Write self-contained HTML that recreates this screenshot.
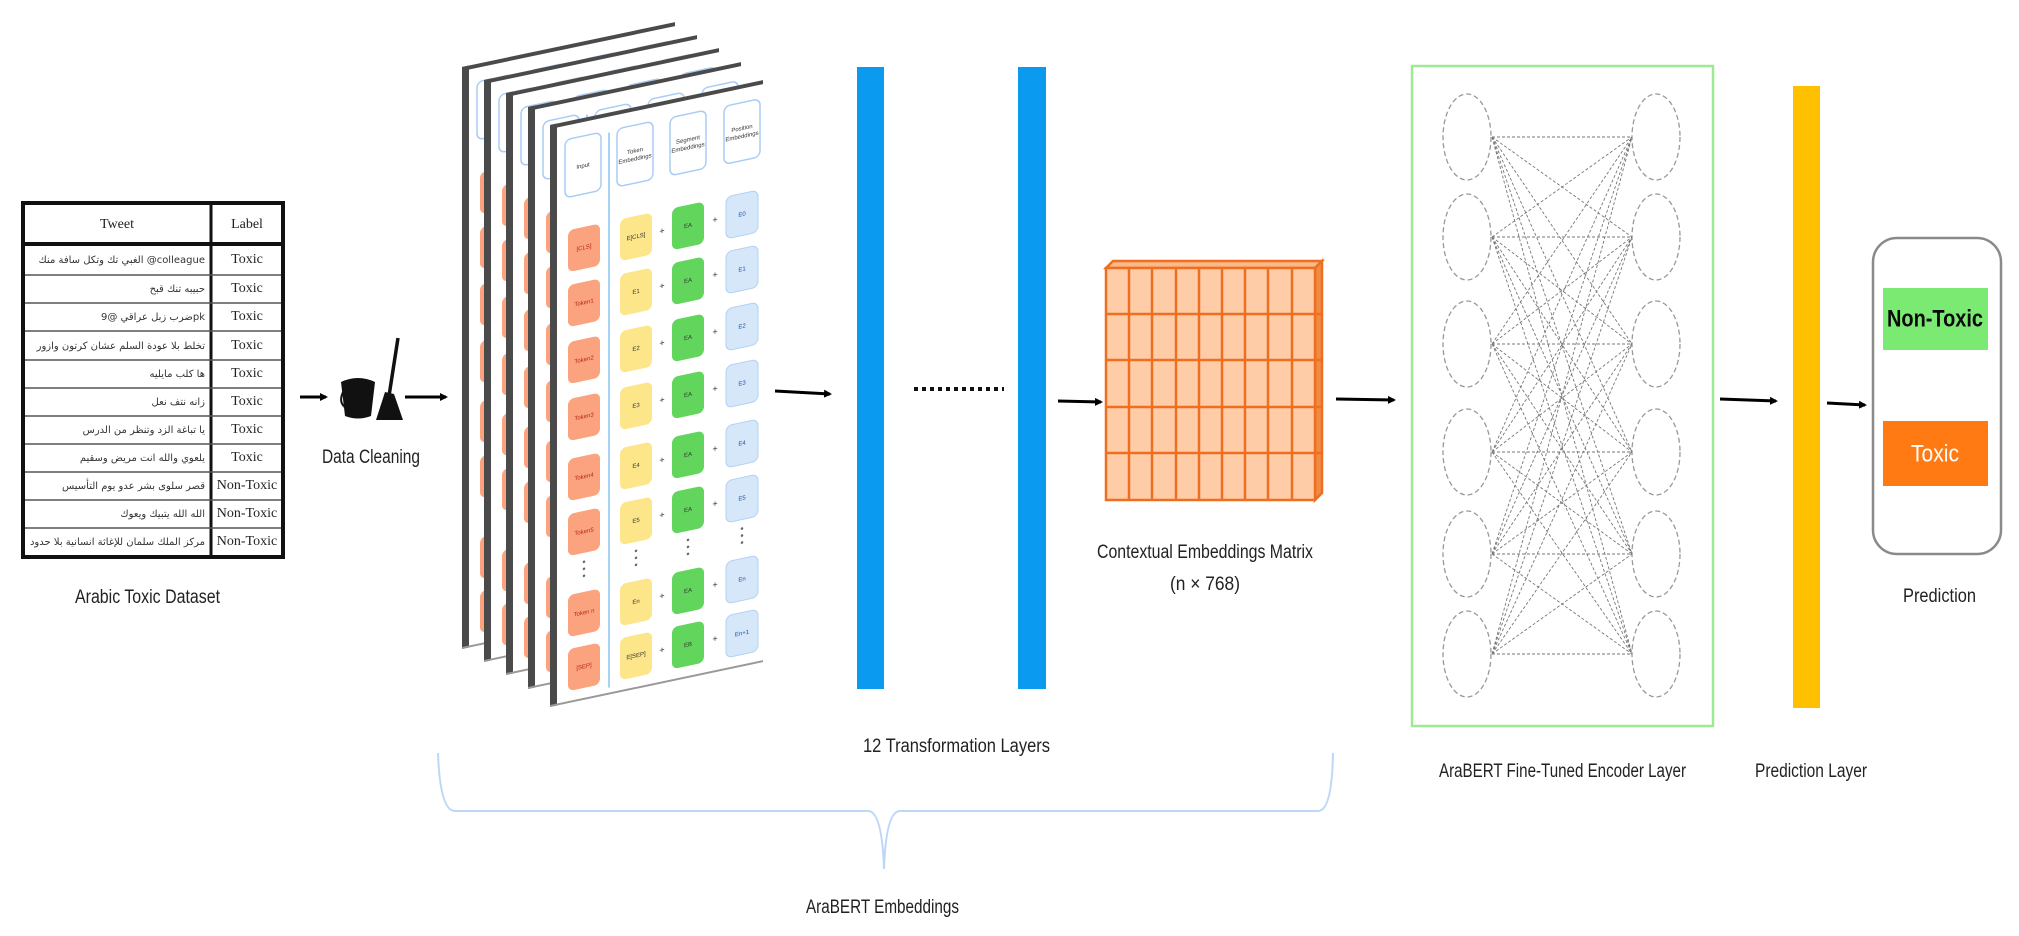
<!DOCTYPE html>
<html><head><meta charset="utf-8"><style>
html,body{margin:0;padding:0;background:#fff;}
svg{display:block;}
.lbl{font-family:"Liberation Sans",sans-serif;font-size:19px;fill:#222;dominant-baseline:middle;}
.tb{font-family:"Liberation Serif",serif;font-size:14px;fill:#222;dominant-baseline:middle;}
.ar{font-family:"DejaVu Sans","Noto Sans CJK SC",sans-serif;font-size:10px;fill:#333;dominant-baseline:middle;}
.ct{font-family:"Liberation Sans",sans-serif;font-size:6px;fill:#333;text-anchor:middle;dominant-baseline:middle;}
</style></head><body>
<svg width="2019" height="936" viewBox="0 0 2019 936" xmlns="http://www.w3.org/2000/svg">
<defs>
<clipPath id="tc"><rect x="27" y="246" width="182" height="310"/></clipPath>
<marker id="ah" markerWidth="8" markerHeight="8" refX="6" refY="4" orient="auto" markerUnits="userSpaceOnUse">
<path d="M0,0 L8,4 L0,8 Z" fill="#000"/></marker>
<g id="card">
<rect x="0" y="0" width="213" height="582" fill="#fff"/>
<rect x="0" y="0" width="7" height="582" fill="#4a4a4a"/>
<rect x="0" y="0" width="213" height="4" fill="#4a4a4a"/>
<rect x="0" y="580" width="213" height="2" fill="#999"/>
<g fill="#fff" stroke="#a8cdf5" stroke-width="1.5">
<rect x="15" y="18" width="36" height="58" rx="6"/>
<rect x="67" y="18" width="36" height="58" rx="6"/>
<rect x="120" y="18" width="36" height="58" rx="6"/>
<rect x="174" y="18" width="36" height="58" rx="6"/>
</g>
<line x1="59" y1="20" x2="59" y2="575" stroke="#a6d4f7" stroke-width="2"/>
<g fill="#FBA37E">
<rect x="18" y="109" width="32" height="42" rx="6"/><rect x="18" y="164" width="32" height="42" rx="6"/>
<rect x="18" y="221" width="32" height="42" rx="6"/><rect x="18" y="278" width="32" height="42" rx="6"/>
<rect x="18" y="338" width="32" height="42" rx="6"/><rect x="18" y="393" width="32" height="42" rx="6"/>
<rect x="18" y="474" width="32" height="42" rx="6"/><rect x="18" y="528" width="32" height="42" rx="6"/>
</g>
<g fill="#FDE68A">
<rect x="70" y="109" width="32" height="42" rx="6"/><rect x="70" y="164" width="32" height="42" rx="6"/>
<rect x="70" y="221" width="32" height="42" rx="6"/><rect x="70" y="278" width="32" height="42" rx="6"/>
<rect x="70" y="338" width="32" height="42" rx="6"/><rect x="70" y="393" width="32" height="42" rx="6"/>
<rect x="70" y="474" width="32" height="42" rx="6"/><rect x="70" y="528" width="32" height="42" rx="6"/>
</g>
<g fill="#62D65C">
<rect x="122" y="109" width="32" height="42" rx="6"/><rect x="122" y="164" width="32" height="42" rx="6"/>
<rect x="122" y="221" width="32" height="42" rx="6"/><rect x="122" y="278" width="32" height="42" rx="6"/>
<rect x="122" y="338" width="32" height="42" rx="6"/><rect x="122" y="393" width="32" height="42" rx="6"/>
<rect x="122" y="474" width="32" height="42" rx="6"/><rect x="122" y="528" width="32" height="42" rx="6"/>
</g>
<g fill="#D6E7FA" stroke="#b3d1f2" stroke-width="1">
<rect x="176" y="109" width="32" height="42" rx="6"/><rect x="176" y="164" width="32" height="42" rx="6"/>
<rect x="176" y="221" width="32" height="42" rx="6"/><rect x="176" y="278" width="32" height="42" rx="6"/>
<rect x="176" y="338" width="32" height="42" rx="6"/><rect x="176" y="393" width="32" height="42" rx="6"/>
<rect x="176" y="474" width="32" height="42" rx="6"/><rect x="176" y="528" width="32" height="42" rx="6"/>
</g>
<g fill="#666">
<circle cx="34" cy="444" r="1.3"/><circle cx="34" cy="451" r="1.3"/><circle cx="34" cy="458" r="1.3"/>
<circle cx="86" cy="444" r="1.3"/><circle cx="86" cy="451" r="1.3"/><circle cx="86" cy="458" r="1.3"/>
<circle cx="138" cy="444" r="1.3"/><circle cx="138" cy="451" r="1.3"/><circle cx="138" cy="458" r="1.3"/>
<circle cx="192" cy="444" r="1.3"/><circle cx="192" cy="451" r="1.3"/><circle cx="192" cy="458" r="1.3"/>
</g>
</g>
</defs>

<!-- Table -->
<rect x="23" y="203" width="260" height="354" fill="#fff" stroke="#111" stroke-width="4"/>
<line x1="23" y1="244" x2="283" y2="244" stroke="#111" stroke-width="4"/>
<line x1="211" y1="203" x2="211" y2="557" stroke="#111" stroke-width="3"/>
<g stroke="#555" stroke-width="1.5">
<line x1="25" y1="275" x2="281" y2="275"/><line x1="25" y1="303" x2="281" y2="303"/>
<line x1="25" y1="331" x2="281" y2="331"/><line x1="25" y1="360" x2="281" y2="360"/>
<line x1="25" y1="388" x2="281" y2="388"/><line x1="25" y1="416" x2="281" y2="416"/>
<line x1="25" y1="444" x2="281" y2="444"/><line x1="25" y1="472" x2="281" y2="472"/>
<line x1="25" y1="500" x2="281" y2="500"/><line x1="25" y1="528" x2="281" y2="528"/>
</g>
<text class="tb" x="117" y="225" text-anchor="middle">Tweet</text>
<text class="tb" x="247" y="225" text-anchor="middle">Label</text>
<g class="ar" text-anchor="end" clip-path="url(#tc)">
<text x="205" y="260">الغبي تك وتكل سافة منك @colleague</text>
<text x="205" y="289">حبيبه تنك قبح</text>
<text x="205" y="317">ضرب زبل عراقي @9pk</text>
<text x="205" y="346">تخلط بلا عودة السلم عشان كرتون وازور</text>
<text x="205" y="374">ها كلب مايليه</text>
<text x="205" y="402">زانه نتف نعل</text>
<text x="205" y="430">يا تباغة الزد وتنظر من الدرس</text>
<text x="205" y="458">يلعوي والله انت مريض وسقيم</text>
<text x="205" y="486">قصر سلوى بشر عدو يوم التأسيس</text>
<text x="205" y="514">الله الله يتبيك ويعوك</text>
<text x="205" y="542">مركز الملك سلمان للإغاثة انسانية بلا حدود</text>
</g>
<g class="tb" text-anchor="middle">
<text x="247" y="260">Toxic</text><text x="247" y="289">Toxic</text><text x="247" y="317">Toxic</text>
<text x="247" y="346">Toxic</text><text x="247" y="374">Toxic</text><text x="247" y="402">Toxic</text>
<text x="247" y="430">Toxic</text><text x="247" y="458">Toxic</text>
<text x="247" y="486">Non-Toxic</text><text x="247" y="514">Non-Toxic</text><text x="247" y="542">Non-Toxic</text>
</g>
<text class="lbl" x="75" y="598" textLength="145" lengthAdjust="spacingAndGlyphs">Arabic Toxic Dataset</text>

<!-- arrows -->
<g stroke="#000" stroke-width="3" marker-end="url(#ah)">
<line x1="300" y1="397" x2="326" y2="397"/>
<line x1="405" y1="397" x2="446" y2="397"/>
<line x1="775" y1="391" x2="830" y2="394"/>
<line x1="1058" y1="401" x2="1101" y2="402"/>
<line x1="1336" y1="399" x2="1394" y2="400"/>
<line x1="1720" y1="399" x2="1776" y2="401"/>
<line x1="1827" y1="403" x2="1865" y2="405"/>
</g>

<!-- bucket + broom -->
<path d="M341,382 Q358,374 375,382 L371,416 Q358,421 345,416 Z" fill="#111"/>
<path d="M343,392 Q337,405 350,410" fill="none" stroke="#111" stroke-width="2"/>
<line x1="398" y1="338" x2="389" y2="396" stroke="#111" stroke-width="3.5"/>
<path d="M385,392 L394,394 L403,420 L376,420 Z" fill="#111"/>
<text class="lbl" x="322" y="458" textLength="98" lengthAdjust="spacingAndGlyphs">Data Cleaning</text>

<!-- card stack -->
<use href="#card" transform="translate(462,67) skewY(-11.9)"/>
<use href="#card" transform="translate(484,80) skewY(-11.9)"/>
<use href="#card" transform="translate(506,93) skewY(-11.9)"/>
<use href="#card" transform="translate(528,107) skewY(-11.9)"/>
<use href="#card" transform="translate(550,125) skewY(-11.9)"/>
<g transform="translate(550,125) skewY(-11.9)">
<text class="ct" x="33" y="48">Input</text>
<text class="ct" x="85" y="44">Token</text><text class="ct" x="85" y="52">Embeddings</text>
<text class="ct" x="138" y="44">Segment</text><text class="ct" x="138" y="52">Embeddings</text>
<text class="ct" x="192" y="44">Position</text><text class="ct" x="192" y="52">Embeddings</text>
<text class="ct" x="34" y="130" style="fill:#b3261e">[CLS]</text><text class="ct" x="34" y="185" style="fill:#b3261e">Token1</text>
<text class="ct" x="34" y="242" style="fill:#b3261e">Token2</text><text class="ct" x="34" y="299" style="fill:#b3261e">Token3</text>
<text class="ct" x="34" y="359" style="fill:#b3261e">Token4</text><text class="ct" x="34" y="414" style="fill:#b3261e">Token5</text>
<text class="ct" x="34" y="495" style="fill:#b3261e">Token n</text><text class="ct" x="34" y="549" style="fill:#b3261e">[SEP]</text>
<g style="font-size:9px">
<text class="ct" x="86" y="130">E[CLS]</text><text class="ct" x="86" y="185">E1</text><text class="ct" x="86" y="242">E2</text>
<text class="ct" x="86" y="299">E3</text><text class="ct" x="86" y="359">E4</text><text class="ct" x="86" y="414">E5</text>
<text class="ct" x="86" y="495">En</text><text class="ct" x="86" y="549">E[SEP]</text>
<text class="ct" x="138" y="130">EA</text><text class="ct" x="138" y="185">EA</text><text class="ct" x="138" y="242">EA</text>
<text class="ct" x="138" y="299">EA</text><text class="ct" x="138" y="359">EA</text><text class="ct" x="138" y="414">EA</text>
<text class="ct" x="138" y="495">EA</text><text class="ct" x="138" y="549">EB</text>
<text class="ct" x="192" y="130" style="fill:#1a4fa0">E0</text><text class="ct" x="192" y="185" style="fill:#1a4fa0">E1</text>
<text class="ct" x="192" y="242" style="fill:#1a4fa0">E2</text><text class="ct" x="192" y="299" style="fill:#1a4fa0">E3</text>
<text class="ct" x="192" y="359" style="fill:#1a4fa0">E4</text><text class="ct" x="192" y="414" style="fill:#1a4fa0">E5</text>
<text class="ct" x="192" y="495" style="fill:#1a4fa0">En</text><text class="ct" x="192" y="549" style="fill:#1a4fa0">En+1</text>
</g>
<g class="ct" style="font-size:9px">
<text x="112" y="130">+</text><text x="112" y="185">+</text><text x="112" y="242">+</text><text x="112" y="299">+</text>
<text x="112" y="359">+</text><text x="112" y="414">+</text><text x="112" y="495">+</text><text x="112" y="549">+</text>
<text x="165" y="130">+</text><text x="165" y="185">+</text><text x="165" y="242">+</text><text x="165" y="299">+</text>
<text x="165" y="359">+</text><text x="165" y="414">+</text><text x="165" y="495">+</text><text x="165" y="549">+</text>
</g>
</g>

<!-- transformer bars -->
<rect x="857" y="67" width="27" height="622" fill="#0A9AF0"/>
<rect x="1018" y="67" width="28" height="622" fill="#0A9AF0"/>
<line x1="914" y1="389" x2="1004" y2="389" stroke="#111" stroke-width="4" stroke-dasharray="4,4"/>
<text class="lbl" x="863" y="747" textLength="187" lengthAdjust="spacingAndGlyphs">12  Transformation Layers</text>

<!-- brace -->
<path d="M438,753 Q440,811 455,811 L868,811 Q882,811 884,869 Q886,811 900,811 L1318,811 Q1332,811 1333,753" fill="none" stroke="#bcd7f7" stroke-width="2"/>
<text class="lbl" x="806" y="908" textLength="153" lengthAdjust="spacingAndGlyphs">AraBERT Embeddings</text>

<!-- matrix -->
<g stroke="#EE6F1F" stroke-width="2.5">
<path d="M1106,268 L1113,261 L1322,261 L1315,268 Z" fill="#F9B98A"/>
<path d="M1315,268 L1322,261 L1322,493 L1315,500 Z" fill="#F08B45"/>
<rect x="1106" y="268" width="209" height="232" fill="#FFCCA8"/>
<path d="M1129,268V500 M1152,268V500 M1176,268V500 M1199,268V500 M1222,268V500 M1245,268V500 M1268,268V500 M1292,268V500"/>
<path d="M1106,314H1322 M1106,360H1322 M1106,407H1322 M1106,453H1322"/>
</g>
<text class="lbl" x="1097" y="553" textLength="216" lengthAdjust="spacingAndGlyphs">Contextual Embeddings Matrix</text>
<text class="lbl" x="1170" y="585" textLength="70" lengthAdjust="spacingAndGlyphs">(n × 768)</text>

<!-- NN -->
<rect x="1412" y="66" width="301" height="660" fill="#fff" stroke="#9EEA94" stroke-width="2.5"/>
<g fill="none" stroke="#999" stroke-width="1.3" stroke-dasharray="5,3">
<ellipse cx="1467" cy="137" rx="24" ry="43"/><ellipse cx="1467" cy="237" rx="24" ry="43"/>
<ellipse cx="1467" cy="344" rx="24" ry="43"/><ellipse cx="1467" cy="452" rx="24" ry="43"/>
<ellipse cx="1467" cy="554" rx="24" ry="43"/><ellipse cx="1467" cy="654" rx="24" ry="43"/>
<ellipse cx="1656" cy="137" rx="24" ry="43"/><ellipse cx="1656" cy="237" rx="24" ry="43"/>
<ellipse cx="1656" cy="344" rx="24" ry="43"/><ellipse cx="1656" cy="452" rx="24" ry="43"/>
<ellipse cx="1656" cy="554" rx="24" ry="43"/><ellipse cx="1656" cy="654" rx="24" ry="43"/>
</g>
<g stroke="#777" stroke-width="0.9" stroke-dasharray="3,2">
<path d="M1492,137L1632,137M1492,137L1632,237M1492,137L1632,344M1492,137L1632,452M1492,137L1632,554M1492,137L1632,654
M1492,237L1632,137M1492,237L1632,237M1492,237L1632,344M1492,237L1632,452M1492,237L1632,554M1492,237L1632,654
M1492,344L1632,137M1492,344L1632,237M1492,344L1632,344M1492,344L1632,452M1492,344L1632,554M1492,344L1632,654
M1492,452L1632,137M1492,452L1632,237M1492,452L1632,344M1492,452L1632,452M1492,452L1632,554M1492,452L1632,654
M1492,554L1632,137M1492,554L1632,237M1492,554L1632,344M1492,554L1632,452M1492,554L1632,554M1492,554L1632,654
M1492,654L1632,137M1492,654L1632,237M1492,654L1632,344M1492,654L1632,452M1492,654L1632,554M1492,654L1632,654"/>
</g>
<text class="lbl" x="1439" y="772" textLength="247" lengthAdjust="spacingAndGlyphs">AraBERT Fine-Tuned Encoder Layer</text>

<!-- prediction layer -->
<rect x="1793" y="86" width="27" height="622" fill="#FFC000"/>
<text class="lbl" x="1755" y="772" textLength="112" lengthAdjust="spacingAndGlyphs">Prediction Layer</text>

<!-- prediction -->
<rect x="1873" y="238" width="128" height="316" rx="24" fill="#fff" stroke="#8a8a8a" stroke-width="2.5"/>
<rect x="1883" y="288" width="105" height="62" fill="#7BEA72"/>
<text x="1935" y="320" text-anchor="middle" dominant-baseline="middle" font-family="Liberation Sans, sans-serif" font-weight="bold" font-size="24" fill="#0a0a0a" textLength="96" lengthAdjust="spacingAndGlyphs">Non-Toxic</text>
<rect x="1883" y="421" width="105" height="65" fill="#FF7A12"/>
<text x="1935" y="455" text-anchor="middle" dominant-baseline="middle" font-family="Liberation Sans, sans-serif" font-size="24" fill="#fff" textLength="48" lengthAdjust="spacingAndGlyphs">Toxic</text>
<text class="lbl" x="1903" y="597" textLength="73" lengthAdjust="spacingAndGlyphs">Prediction</text>
</svg>
</body></html>
